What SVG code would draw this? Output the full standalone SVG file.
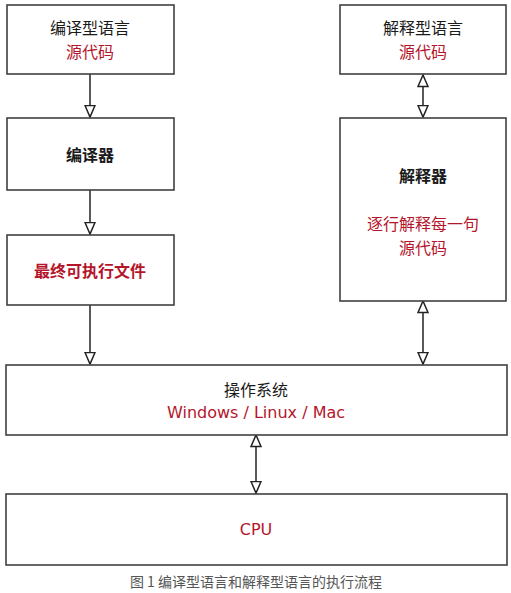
<svg xmlns="http://www.w3.org/2000/svg" width="511" height="593" viewBox="0 0 511 593">
<style>
.box{fill:#fff;stroke:#404040;stroke-width:1.6}
.cn{font-family:"Noto Sans CJK SC","Noto Sans",sans-serif;font-size:16px;fill:#1a1a1a;text-anchor:middle}
.b{font-weight:bold}
.red{fill:#b5152b}
.lat{font-family:"DejaVu Sans","Liberation Sans",sans-serif;font-size:16px;fill:#b5152b;text-anchor:middle}
.cap{font-family:"Noto Sans CJK SC","Noto Sans",sans-serif;font-size:14px;fill:#555;text-anchor:middle}
.ln{stroke:#222;stroke-width:1.5;fill:none}
</style>
<defs>
<marker id="ah" markerUnits="userSpaceOnUse" markerWidth="14" markerHeight="12" refX="11.5" refY="5" orient="auto-start-reverse" viewBox="-1 -1 14 12">
<path d="M0,0 L11.5,5 L0,10 Z" fill="#fff" stroke="#222" stroke-width="1.5" stroke-linejoin="miter"/>
</marker>
</defs>
<rect width="511" height="593" fill="#fff"/>
<g id="connectors">
<line class="ln" x1="90" y1="74" x2="90" y2="117" marker-end="url(#ah)"/>
<line class="ln" x1="90" y1="190" x2="90" y2="234" marker-end="url(#ah)"/>
<line class="ln" x1="90" y1="305" x2="90" y2="364" marker-end="url(#ah)"/>
<line class="ln" x1="423" y1="75" x2="423" y2="117" marker-start="url(#ah)" marker-end="url(#ah)"/>
<line class="ln" x1="423" y1="301" x2="423" y2="364" marker-start="url(#ah)" marker-end="url(#ah)"/>
<line class="ln" x1="256" y1="435" x2="256" y2="493" marker-start="url(#ah)" marker-end="url(#ah)"/>
</g>
<g id="compiled-lang">
<rect class="box" x="7" y="5" width="167" height="69"/>
<text class="cn" x="90" y="34">编译型语言</text>
<text class="cn red" x="90" y="58">源代码</text>
</g>
<g id="compiler">
<rect class="box" x="7" y="118" width="167" height="72"/>
<text class="cn b" x="90" y="161">编译器</text>
</g>
<g id="executable">
<rect class="box" x="7" y="235" width="167" height="70"/>
<text class="cn b red" x="90" y="277">最终可执行文件</text>
</g>
<g id="interpreted-lang">
<rect class="box" x="340" y="5" width="166" height="69"/>
<text class="cn" x="423" y="34">解释型语言</text>
<text class="cn red" x="423" y="58">源代码</text>
</g>
<g id="interpreter">
<rect class="box" x="340" y="118" width="166" height="183"/>
<text class="cn b" x="423" y="182">解释器</text>
<text class="cn red" x="423" y="230">逐行解释每一句</text>
<text class="cn red" x="423" y="254">源代码</text>
</g>
<g id="os">
<rect class="box" x="6" y="365" width="501" height="70"/>
<text class="cn" x="256" y="396">操作系统</text>
<text class="lat" x="256" y="418">Windows / Linux / Mac</text>
</g>
<g id="cpu">
<rect class="box" x="6" y="494" width="501" height="71"/>
<text class="lat" x="256" y="535">CPU</text>
</g>
<text class="cap" x="256" y="587">图 1 编译型语言和解释型语言的执行流程</text>
</svg>
